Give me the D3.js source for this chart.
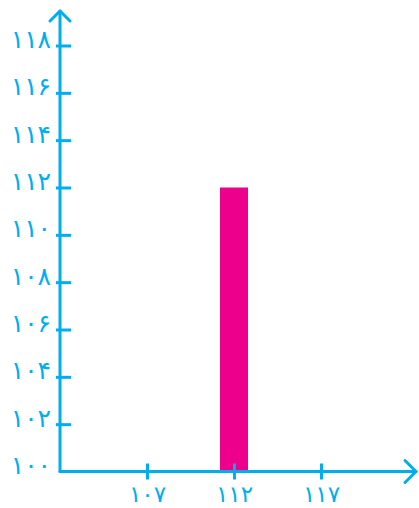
<!DOCTYPE html>
<html><head><meta charset="utf-8">
<script src="https://cdn.jsdelivr.net/npm/d3@7"></script>
<style>
html,body{margin:0;padding:0;background:#fff;}
svg{display:block;}
text{font-family:"DejaVu Sans",sans-serif;fill:#00AEEF;}
</style></head>
<body>
<svg id="c" width="419" height="508"></svg>
<script>
const categories = [112];
const values = [112];
const xTicks = [107, 112, 117];
const yTicks = [100, 102, 104, 106, 108, 110, 112, 114, 116, 118];

const blue = "#00AEEF", pink = "#EC008C";
const fa = n => String(n).replace(/[0-9]/g, d => "۰۱۲۳۴۵۶۷۸۹"[+d]);

const svg = d3.select("#c");
const x = d3.scaleLinear().domain([102, 122]).range([60, 408]);
const y = d3.scaleLinear().domain([100, 118]).range([471.5, 45.5]);

// bar
svg.selectAll("rect.bar").data(values).enter().append("rect")
  .attr("class","bar")
  .attr("x", (d,i) => x(categories[i]) - 14)
  .attr("width", 28)
  .attr("y", d => y(d))
  .attr("height", d => y(100) - y(d))
  .attr("fill", pink);

// y axis
const yAx = svg.append("g").attr("transform","translate(60,0)")
  .call(d3.axisLeft(y).tickValues(yTicks).tickFormat(fa).tickSize(0).tickPadding(10));
yAx.select(".domain").remove();
yAx.selectAll(".tick text").attr("font-size", 25).attr("fill", blue).attr("dy", 2)
  .attr("font-family","DejaVu Sans").attr("x", -9).attr("letter-spacing", 1);
yAx.selectAll(".tick").filter(d => d !== 100).append("line")
  .attr("x1",-4).attr("x2",11).attr("stroke",blue).attr("stroke-width",3);

// x axis
const xAx = svg.append("g").attr("transform","translate(0,471.5)")
  .call(d3.axisBottom(x).tickValues(xTicks).tickFormat(fa).tickSize(0));
xAx.select(".domain").remove();
xAx.selectAll(".tick text").attr("font-size", 23).attr("fill", blue).attr("font-family","DejaVu Sans")
  .attr("y", 30.5).attr("dy", 0).attr("letter-spacing", 2);
xAx.selectAll(".tick").append("line")
  .attr("y1",-8).attr("y2",8).attr("stroke",blue).attr("stroke-width",3);

// axis lines with arrows
const g = svg.append("g").attr("stroke", blue).attr("stroke-width",3).attr("fill","none")
  .attr("stroke-linecap","round").attr("stroke-linejoin","round");
g.append("path").attr("d", `M60,${y(100)}V11`);
g.append("path").attr("d", `M50,21L60,11L70,21`);
g.append("path").attr("d", `M60,${y(100)}H416`);
g.append("path").attr("d", `M405,${y(100)-11}L416,${y(100)}L405,${y(100)+11}`);
</script>
</body></html>
